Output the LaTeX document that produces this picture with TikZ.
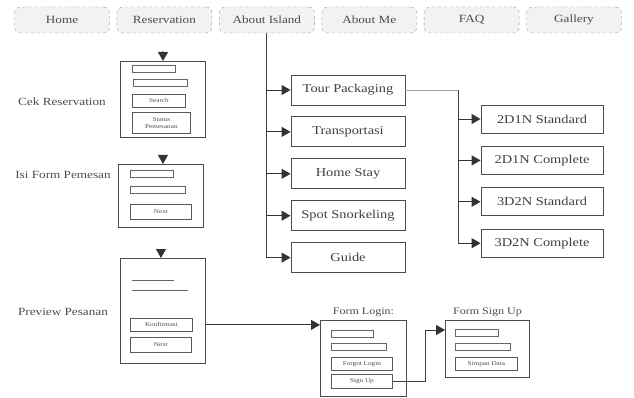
\documentclass[tikz,border=0pt]{standalone}
\usepackage{fontspec}
\setmainfont[FakeStretch=1.2]{Liberation Serif}
\usetikzlibrary{arrows.meta, positioning}
\tikzset{
  menu/.style={rectangle, rounded corners=6pt, draw=black!40, dashed,
               fill=black!5, text=black!70, font=\fontsize{11}{13}\selectfont,
               minimum width=95pt, minimum height=26pt, inner sep=2pt},
  page/.style={rectangle, draw=black!70, line width=0.9pt, fill=white,
               text=black!75, font=\fontsize{12}{14}\selectfont,
               minimum height=#1, inner sep=2pt},
  page/.default=30pt,
  screen/.style={rectangle, draw=black!70, line width=0.9pt, anchor=north west,
                 inner sep=0pt},
  field/.style={rectangle, draw=black!60, line width=0.8pt, anchor=north west,
                minimum height=7pt, inner sep=0pt},
  btn/.style={rectangle, draw=black!65, line width=0.8pt, anchor=north west,
              font=\fontsize{6}{7}\selectfont, text=black!70, inner sep=1pt,
              align=center},
  lbl/.style={font=\fontsize{11}{13}\selectfont, text=black!70},
  arr/.style={-{Triangle[length=9pt,width=10pt]}, line width=0.9pt, black!80},
  wire/.style={line width=0.9pt, black!75},
  faint/.style={line width=0.8pt, black!35},
}
\begin{document}
\begin{tikzpicture}[x=1pt, y=-1pt, node distance=11pt and 7pt]
  \useasboundingbox (0,0) rectangle (634,398);
  %% Menu
  \node[menu] (home) at (62,20) {Home};
  \node[menu, right=of home]  (resv)  {Reservation};
  \node[menu, right=of resv]  (about) {About Island};
  \node[menu, right=of about] (me)    {About Me};
  \node[menu, right=of me]    (faq)   {FAQ};
  \node[menu, right=of faq]   (gal)   {Gallery};
  %% About Island pages
  \node[page, minimum width=114pt] (tour) at (348,90) {Tour Packaging};
  \node[page, minimum width=114pt, below=of tour]  (trans) {Transportasi};
  \node[page, minimum width=114pt, below=of trans] (stay)  {Home Stay};
  \node[page, minimum width=114pt, below=of stay]  (snork) {Spot Snorkeling};
  \node[page, minimum width=114pt, below=of snork] (guide) {Guide};
  \draw[wire] (about.south) -- (about.south |- guide);
  \foreach \n in {tour,trans,stay,snork,guide}
    \draw[arr] (about.south |- \n) -- (\n.west);
  %% Tour packages
  \node[page=28pt, minimum width=122pt] (pk1) at (542,119) {2D1N Standard};
  \node[page=28pt, minimum width=122pt, below=12.5pt of pk1] (pk2) {2D1N Complete};
  \node[page=28pt, minimum width=122pt, below=12.5pt of pk2] (pk3) {3D2N Standard};
  \node[page=28pt, minimum width=122pt, below=12.5pt of pk3] (pk4) {3D2N Complete};
  \coordinate (split) at (458,90);
  \draw[faint] (tour.east) -- (split);
  \draw[wire] (split) -- (split |- pk4);
  \foreach \n in {pk1,pk2,pk3,pk4}
    \draw[arr] (split |- \n) -- (\n.west);
  %% Reservation flow
  \node[lbl] (lcek) at (62,102) {Cek Reservation};
  \node[screen, minimum width=85pt, minimum height=76pt] (cek) at (120,61) {};
  \node[field, minimum width=43pt] (c1) at (132,65) {};
  \node[field, minimum width=54pt] (c2) at (133,79) {};
  \node[btn, minimum width=53pt, minimum height=13pt] (cs) at (132,94) {Search};
  \node[btn, minimum width=58pt, minimum height=21pt] (cp) at (132,112) {Status\\Pemesanan};
  \coordinate (start) at (163,51);
  \draw[arr] (start) -- (cek.north);

  \node[lbl] (lpem) at (63,175) {Isi Form Pemesan};
  \node[screen, minimum width=85pt, minimum height=63pt] (pem) at (118,164) {};
  \node[field, minimum width=43pt] (p1) at (130,170) {};
  \node[field, minimum width=55pt] (p2) at (130,186) {};
  \node[btn, minimum width=61pt, minimum height=15pt] (pn) at (130,204) {Next};
  \draw[arr, shorten <=17pt] (cek.south) -- (cek.south |- pem.north);

  \node[lbl] (lprev) at (63,312) {Preview Pesanan};
  \node[screen, minimum width=85pt, minimum height=105pt] (prev) at (120,258) {};
  \draw[wire, black!60] (132,280) -- (174,280);
  \draw[wire, black!60] (132,290) -- (188,290);
  \node[btn, minimum width=62pt, minimum height=13pt] (konf) at (130,318) {Konfirmasi};
  \node[btn, minimum width=61pt, minimum height=15pt] (vn) at (130,337) {Next};
  \draw[arr, shorten <=21pt] (pem.south) -- (pem.south |- prev.north);
  %% Login and sign up
  \node[screen, minimum width=86pt, minimum height=76pt] (login) at (320,320) {};
  \node[lbl, font=\fontsize{10}{12}\selectfont, above=0pt of login] (tlog) {Form Login:};
  \node[field, minimum width=42pt] (l1) at (331,330) {};
  \node[field, minimum width=55pt] (l2) at (331,343) {};
  \node[btn, minimum width=61pt, minimum height=13pt] (lf) at (331,357) {Forgot Login};
  \node[btn, minimum width=61pt, minimum height=14pt] (lsu) at (331,374) {Sign Up};
  \draw[arr] (prev.east |- konf) -- (login.west |- konf);

  \node[screen, minimum width=84pt, minimum height=57pt] (signup) at (445,320) {};
  \node[lbl, font=\fontsize{10}{12}\selectfont, above=0pt of signup] (tsig) {Form Sign Up};
  \node[field, minimum width=43pt] (s1) at (455,329) {};
  \node[field, minimum width=55pt] (s2) at (455,343) {};
  \node[btn, minimum width=62pt, minimum height=13pt] (ss) at (455,357) {Simpan Data};
  \coordinate (turn) at (425,330);
  \draw[wire] (lsu.east) -| (turn);
  \draw[arr] (turn) -- (signup.west |- turn);
\end{tikzpicture}
\end{document}
